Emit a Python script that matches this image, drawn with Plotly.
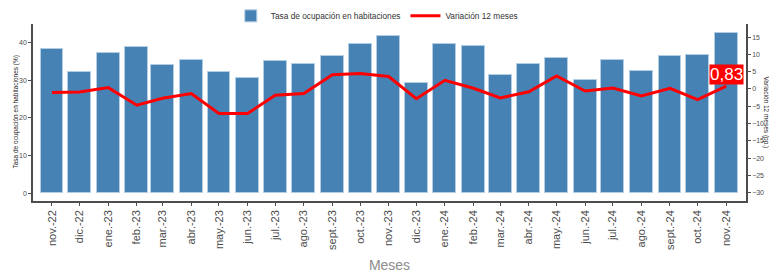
import plotly.graph_objects as go

months = ["2022-11-01", "2022-12-01", "2023-01-01", "2023-02-01", "2023-03-01", "2023-04-01",
          "2023-05-01", "2023-06-01", "2023-07-01", "2023-08-01", "2023-09-01", "2023-10-01",
          "2023-11-01", "2023-12-01", "2024-01-01", "2024-02-01", "2024-03-01", "2024-04-01",
          "2024-05-01", "2024-06-01", "2024-07-01", "2024-08-01", "2024-09-01", "2024-10-01",
          "2024-11-01"]
month_labels = ["nov.-22", "dic.-22", "ene.-23", "feb.-23", "mar.-23", "abr.-23", "may.-23",
                "jun.-23", "jul.-23", "ago.-23", "sept.-23", "oct.-23", "nov.-23", "dic.-23",
                "ene.-24", "feb.-24", "mar.-24", "abr.-24", "may.-24", "jun.-24", "jul.-24",
                "ago.-24", "sept.-24", "oct.-24", "nov.-24"]
ocupacion = [38.2, 32.2, 37.3, 38.9, 34.0, 35.3, 32.1, 30.6, 35.1, 34.4, 36.3, 39.7, 41.8,
             29.3, 39.7, 39.0, 31.4, 34.4, 35.8, 29.9, 35.3, 32.3, 36.5, 36.7, 42.6]
variacion = [-1.0, -0.9, 0.4, -4.7, -2.7, -1.3, -7.1, -7.1, -1.8, -1.3, 4.1, 4.5, 3.6,
             -2.8, 2.5, 0.2, -2.6, -0.8, 3.8, -0.6, 0.3, -2.0, 0.2, -3.1, 0.83]
last_label = "0,83"
left_title = "Tasa de ocupación en habitaciones (%)"
right_title = "Variación 12 meses (pp.)"

FONT = "Liberation Sans, Arial"
tick_font = dict(family=FONT, size=7, color="#4d4d4d")

fig = go.Figure()
fig.add_trace(go.Bar(
    x=months, y=ocupacion, name="Tasa de ocupación en habitaciones",
    width=24.8 * 86400000,
    marker=dict(color="#4682B4", line=dict(color="#b3cde3", width=1)),
    yaxis="y",
))
fig.add_trace(go.Scatter(
    x=months, y=variacion, name="Variación 12 meses", mode="lines",
    line=dict(color="#ff0000", width=3), yaxis="y2",
))
fig.add_annotation(
    x=months[-1], y=variacion[-1], xref="x", yref="y2", text=last_label,
    showarrow=False, yshift=12, bgcolor="#ff0000",
    font=dict(family=FONT, size=17, color="white"),
    borderpad=0,
)
# axis titles
fig.add_annotation(
    x=0, y=0.5, xref="paper", yref="paper", xshift=-18, xanchor="center", yanchor="middle",
    text=left_title, textangle=-90, showarrow=False, borderpad=0,
    font=dict(family=FONT, size=6.5, color="#1a1a1a"),
)
fig.add_annotation(
    x=1, y=0.5, xref="paper", yref="paper", xshift=20, xanchor="center", yanchor="middle",
    text=right_title, textangle=90, showarrow=False, borderpad=0,
    font=dict(family=FONT, size=6.5, color="#1a1a1a"),
)

fig.update_layout(
    width=769, height=273,
    margin=dict(l=33, r=23, t=24, b=72, autoexpand=False),
    paper_bgcolor="white", plot_bgcolor="white",
    bargap=0,
    showlegend=True,
    legend=dict(orientation="h", x=0.49, xanchor="center", xref="container",
                y=0.995, yanchor="top", yref="container",
                font=dict(family=FONT, size=8.3, color="#333333"),
                bgcolor="rgba(0,0,0,0)"),
    xaxis=dict(
        type="date", range=["2022-10-11 10:00", "2024-11-22 10:00"],
        tickvals=months, ticktext=month_labels, tickangle=-90,
        showline=True, linecolor="#4d4d4d", linewidth=1.5,
        ticks="outside", ticklen=3, tickcolor="#4d4d4d",
        tickfont=dict(family=FONT, size=11, color="#4d4d4d"),
        showgrid=False, zeroline=False, automargin=False,
        title=dict(text="Meses", font=dict(family=FONT, size=14, color="#8c8c8c"),
                   standoff=16),
    ),
    yaxis=dict(
        range=[-2.1, 44.9], tickvals=[0, 10, 20, 30, 40],
        showline=True, linecolor="#4d4d4d", linewidth=1.5,
        ticks="outside", ticklen=3, tickcolor="#4d4d4d", tickfont=tick_font,
        showgrid=False, zeroline=False, automargin=False,
    ),
    yaxis2=dict(
        overlaying="y", side="right",
        range=[-32.4, 18.8], tickvals=[-30, -25, -20, -15, -10, -5, 0, 5, 10, 15],
        showline=True, linecolor="#4d4d4d", linewidth=1.5,
        ticks="outside", ticklen=3, tickcolor="#4d4d4d", tickfont=tick_font,
        showgrid=False, zeroline=False, automargin=False,
    ),
)

fig.write_html("out.html", config={"displayModeBar": False},
               post_script="document.body.style.margin='0px';")
